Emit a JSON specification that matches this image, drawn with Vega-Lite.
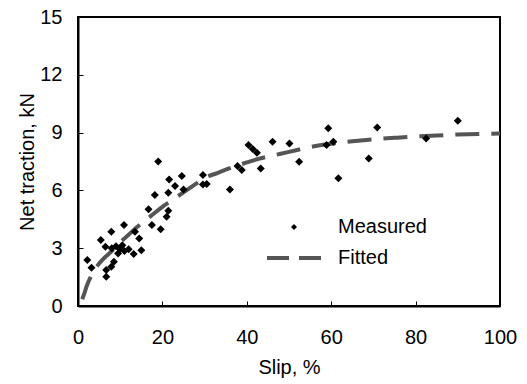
{
  "$schema": "https://vega.github.io/schema/vega-lite/v6.json",
  "autosize": "none",
  "width": 422,
  "height": 289,
  "padding": {"left": 78, "top": 17, "right": 27, "bottom": 78},
  "background": "white",
  "config": {
    "font": "Liberation Sans",
    "view": {"stroke": "black", "strokeWidth": 2},
    "axis": {
      "grid": false,
      "domainColor": "black",
      "domainWidth": 2,
      "tickColor": "black",
      "tickWidth": 1,
      "tickSize": -5,
      "labelFlush": false,
      "labelOverlap": false,
      "labelFont": "Liberation Sans",
      "labelFontSize": 20,
      "labelColor": "black",
      "titleFont": "Liberation Sans",
      "titleFontSize": 20,
      "titleFontWeight": "normal",
      "titleColor": "black"
    }
  },
  "datasets": {
    "measured": [
      {"slip": 2.2, "traction": 2.39}, {"slip": 3.2, "traction": 1.99}, {"slip": 5.4, "traction": 3.42},
      {"slip": 7.9, "traction": 3.86}, {"slip": 10.9, "traction": 4.2}, {"slip": 13.5, "traction": 3.86},
      {"slip": 14.5, "traction": 3.5}, {"slip": 6.5, "traction": 3.08}, {"slip": 8.0, "traction": 3.0},
      {"slip": 9.0, "traction": 3.1}, {"slip": 10.0, "traction": 2.95}, {"slip": 11.0, "traction": 2.85},
      {"slip": 12.0, "traction": 2.95}, {"slip": 10.5, "traction": 3.15}, {"slip": 13.2, "traction": 2.7},
      {"slip": 15.0, "traction": 2.9}, {"slip": 8.5, "traction": 2.3}, {"slip": 7.9, "traction": 2.04},
      {"slip": 6.7, "traction": 1.87}, {"slip": 6.7, "traction": 1.52}, {"slip": 9.5, "traction": 2.73},
      {"slip": 16.7, "traction": 5.02}, {"slip": 17.5, "traction": 4.2}, {"slip": 19.6, "traction": 3.98},
      {"slip": 18.2, "traction": 5.76}, {"slip": 21.0, "traction": 4.63}, {"slip": 21.4, "traction": 4.95},
      {"slip": 21.6, "traction": 6.57}, {"slip": 21.4, "traction": 5.88}, {"slip": 23.0, "traction": 6.23},
      {"slip": 24.6, "traction": 6.75}, {"slip": 25.0, "traction": 6.05}, {"slip": 19.0, "traction": 7.5},
      {"slip": 29.6, "traction": 6.8}, {"slip": 30.5, "traction": 6.33}, {"slip": 29.6, "traction": 6.3},
      {"slip": 36.0, "traction": 6.05}, {"slip": 37.8, "traction": 7.27}, {"slip": 38.8, "traction": 7.06},
      {"slip": 40.4, "traction": 8.36}, {"slip": 41.4, "traction": 8.15}, {"slip": 42.4, "traction": 7.95},
      {"slip": 43.3, "traction": 7.14}, {"slip": 46.1, "traction": 8.53}, {"slip": 50.1, "traction": 8.44},
      {"slip": 52.4, "traction": 7.49}, {"slip": 59.3, "traction": 9.22}, {"slip": 58.9, "traction": 8.36},
      {"slip": 60.5, "traction": 8.53}, {"slip": 61.7, "traction": 6.63}, {"slip": 68.9, "traction": 7.66},
      {"slip": 70.9, "traction": 9.27}, {"slip": 82.5, "traction": 8.69}, {"slip": 90.0, "traction": 9.62}
    ],
    "fitted": [
      {"slip": 1, "traction": 0.35}, {"slip": 1.5, "traction": 0.65}, {"slip": 2, "traction": 1.0},
      {"slip": 3, "traction": 1.5}, {"slip": 4, "traction": 1.9}, {"slip": 5, "traction": 2.2},
      {"slip": 6, "traction": 2.45}, {"slip": 7, "traction": 2.65}, {"slip": 8, "traction": 2.85},
      {"slip": 9, "traction": 3.05}, {"slip": 10, "traction": 3.3}, {"slip": 12, "traction": 3.7},
      {"slip": 14, "traction": 4.1}, {"slip": 16, "traction": 4.45}, {"slip": 18, "traction": 4.8},
      {"slip": 20, "traction": 5.15}, {"slip": 22, "traction": 5.45}, {"slip": 25, "traction": 5.9},
      {"slip": 28, "traction": 6.35}, {"slip": 30, "traction": 6.65}, {"slip": 33, "traction": 6.9},
      {"slip": 36, "traction": 7.15}, {"slip": 40, "traction": 7.45}, {"slip": 43, "traction": 7.65},
      {"slip": 46, "traction": 7.8}, {"slip": 50, "traction": 8.0}, {"slip": 55, "traction": 8.25},
      {"slip": 60, "traction": 8.42}, {"slip": 65, "traction": 8.55}, {"slip": 70, "traction": 8.65},
      {"slip": 75, "traction": 8.73}, {"slip": 80, "traction": 8.8}, {"slip": 85, "traction": 8.85},
      {"slip": 90, "traction": 8.9}, {"slip": 95, "traction": 8.93}, {"slip": 100, "traction": 8.95}
    ]
  },
  "encoding": {
    "x": {
      "field": "slip", "type": "quantitative",
      "scale": {"domain": [0, 100], "nice": false},
      "axis": {"values": [0, 20, 40, 60, 80, 100], "title": "Slip, %", "labelPadding": 26, "titlePadding": 10}
    },
    "y": {
      "field": "traction", "type": "quantitative",
      "scale": {"domain": [0, 15], "nice": false},
      "axis": {"values": [0, 3, 6, 9, 12, 15], "title": "Net traction, kN", "labelPadding": 21, "titlePadding": 2}
    }
  },
  "layer": [
    {
      "data": {"name": "fitted"},
      "mark": {"type": "line", "strokeDash": [24, 12], "strokeWidth": 4, "interpolate": "monotone"},
      "encoding": {
        "color": {
          "datum": "Fitted",
          "scale": {"domain": ["Measured", "Fitted"], "range": ["black", "#555555"]},
          "legend": {
            "title": null,
            "orient": "none",
            "legendX": 206,
            "legendY": 200,
            "labelFont": "Liberation Sans",
            "labelFontSize": 20,
            "labelColor": "black",
            "labelOffset": 34,
            "symbolSize": 2916,
            "rowPadding": 11,
            "encode": {
              "symbols": {
                "update": {
                  "shape": {"signal": "datum.value === 'Measured' ? 'diamond' : 'stroke'"},
                  "size": {"signal": "datum.value === 'Measured' ? 36 : 2916"},
                  "fill": {"signal": "datum.value === 'Measured' ? 'black' : 'transparent'"},
                  "stroke": {"signal": "datum.value === 'Measured' ? 'transparent' : '#555555'"},
                  "strokeWidth": {"signal": "datum.value === 'Measured' ? 0 : 4"},
                  "strokeDash": {"signal": "datum.value === 'Measured' ? [1, 0] : [22, 10]"},
                  "opacity": {"value": 1}
                }
              }
            }
          }
        }
      }
    },
    {
      "data": {"name": "measured"},
      "mark": {"type": "point", "shape": "diamond", "filled": true, "size": 64, "opacity": 1},
      "encoding": {
        "color": {"datum": "Measured"}
      }
    }
  ]
}
